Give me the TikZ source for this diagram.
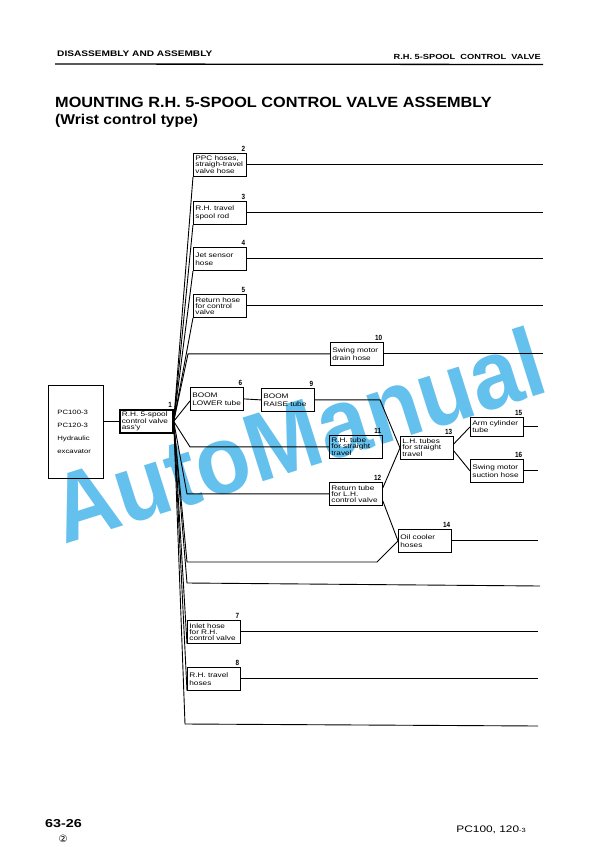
\documentclass[tikz,border=0pt]{standalone}
\usepackage{fontspec}
\setmainfont{Liberation Sans}
\newfontfamily\boxfont[FakeStretch=1.25]{Liberation Sans}
\newfontfamily\titlefont[FakeStretch=1.1]{Liberation Sans}
\newfontfamily\numfont[FakeStretch=0.85]{Liberation Sans}
\newfontfamily\dejavu{DejaVu Sans}
\usetikzlibrary{calc}
\definecolor{wm}{RGB}{100,192,236}
\lineskiplimit=-8pt
\begin{document}
\begin{tikzpicture}[x=1pt,y=-1pt,
  box/.style={draw, line width=0.8pt, anchor=north west, minimum height=23pt,
    text width=49pt, inner xsep=2pt, inner ysep=1pt, align=left,
    font=\boxfont\fontsize{6.6}{5.8}\selectfont},
  boxtwo/.style={box, font=\boxfont\fontsize{6.6}{8}\selectfont},
  num/.style={anchor=south east, inner sep=0.5pt, font=\numfont\bfseries\fontsize{7.5}{7.5}\selectfont},
  ln/.style={line width=0.9pt},
]
\useasboundingbox (0,0) rectangle (612,866);
\fill[white] (0,0) rectangle (612,866);

% header
\node[anchor=base west, inner sep=0, font=\boxfont\bfseries\fontsize{8.1}{8}\selectfont] (hl) at (57,57) {DISASSEMBLY AND ASSEMBLY};
\node[anchor=base east, inner sep=0, font=\boxfont\bfseries\fontsize{7.4}{8}\selectfont] (hr) at (541,60) {R.H. 5-SPOOL\ \ CONTROL\ \ VALVE};
\draw[line width=1.3pt] (55,64) -- (543,64.5);
\node[anchor=base west, inner sep=0, font=\titlefont\bfseries\fontsize{14.8}{15}\selectfont] (title) at (55,108) {MOUNTING R.H. 5-SPOOL CONTROL VALVE ASSEMBLY};
\node[anchor=base west, inner sep=0, font=\titlefont\bfseries\fontsize{14.2}{14}\selectfont] (subtitle) at (55,125) {(Wrist control type)};

% boxes
\node[draw, line width=0.8pt, anchor=north west, minimum width=55pt, minimum height=93pt,
  text width=37pt, inner xsep=9pt, align=left, font=\boxfont\fontsize{6.2}{12.7}\selectfont] (exc) at (48,385) {PC100-3\\PC120-3\\Hydraulic\\excavator};
\node[box, line width=1.7pt] (n1) at (119,409) {R.H. 5-spool\\control valve\\ass'y};
\node[box] (n2) at (193,153) {PPC hoses,\\straigh-travel\\valve hose};
\node[boxtwo] (n3) at (193,201) {R.H. travel\\spool rod};
\node[boxtwo] (n4) at (193,247) {Jet sensor\\hose};
\node[box] (n5) at (193,294) {Return hose\\for control\\valve};
\node[boxtwo] (n10) at (330,342) {Swing motor\\drain hose};
\node[boxtwo] (n6) at (190,387) {BOOM\\LOWER tube};
\node[boxtwo] (n9) at (261,388) {BOOM\\RAISE tube};
\node[box] (n11) at (329,435) {R.H. tube\\for straight\\travel};
\node[box] (n12) at (329,482) {Return tube\\for L.H.\\control valve};
\node[box] (n13) at (400,436) {L.H. tubes\\for straight\\travel};
\node[boxtwo, minimum height=19pt, font=\boxfont\fontsize{6.6}{7}\selectfont] (n15) at (470,417) {Arm cylinder\\tube};
\node[boxtwo] (n16) at (470,459) {Swing motor\\suction hose};
\node[boxtwo] (n14) at (398,529) {Oil cooler\\hoses};
\node[box] (n7) at (187,620) {Inlet hose\\for R.H.\\control valve};
\node[boxtwo] (n8) at (187,667) {R.H. travel\\hoses};

% numbers
\node[num] (l1) at ($(n1.north east)+(-1,-1)$) {1};
\node[num] (l2) at ($(n2.north east)+(-1,-1)$) {2};
\node[num] (l3) at ($(n3.north east)+(-1,-1)$) {3};
\node[num] (l4) at ($(n4.north east)+(-1,-1)$) {4};
\node[num] (l5) at ($(n5.north east)+(-1,-1)$) {5};
\node[num] (l6) at ($(n6.north east)+(-1,-1)$) {6};
\node[num] (l7) at ($(n7.north east)+(-1,-1)$) {7};
\node[num] (l8) at ($(n8.north east)+(-1,-1)$) {8};
\node[num] (l9) at ($(n9.north east)+(-1,-1)$) {9};
\node[num] (l10) at ($(n10.north east)+(-1,-1)$) {10};
\node[num] (l11) at ($(n11.north east)+(-1,-1)$) {11};
\node[num] (l12) at ($(n12.north east)+(-1,-1)$) {12};
\node[num] (l13) at ($(n13.north east)+(-1,-1)$) {13};
\node[num] (l14) at ($(n14.north east)+(-1,-1)$) {14};
\node[num] (l15) at ($(n15.north east)+(-1,-1)$) {15};
\node[num] (l16) at ($(n16.north east)+(-1,-1)$) {16};

% helper x-positions
\coordinate (xa) at (188,0);
\coordinate (xb) at (190,0);
\coordinate (xc) at (187,0);
\coordinate (xd) at (380,0);
\coordinate (eA) at (543,0);
\coordinate (eB) at (538,0);
\coordinate (c14) at (187,562);
\coordinate (c14b) at (377,562);
\coordinate (ca) at (187,583);
\coordinate (cae) at (540,586);
\coordinate (cb) at (185,724);
\coordinate (cbe) at (538,726);

% connectors
\draw[ln] (n1.west) -- (n1.west -| exc.east);
\foreach \t in {n2,n3,n4,n5,n7,n8} \draw[ln] (n1.east) -- (\t.south west);
\draw[ln] (n1.east) -- (n10.west -| xa) -- (n10.west);
\draw[ln] (n1.east) -- ($(n6.west)+(0,2)$);
\draw[ln] (n1.east) -- (n11.west -| xb) -- (n11.west);
\draw[ln] (n1.east) -- (n12.west -| xc) -- (n12.west);
\draw[ln] (n1.east) -- (c14) -- (c14b) -- (n14.west);
\draw[ln] (n1.east) -- (ca) -- (cae);
\draw[ln] (n1.east) -- (cb) -- (cbe);
\draw[ln] (n6.east) -- (n9.west);
\draw[ln] (n9.east) -- (n9.east -| xd) -- (n13.west);
\draw[ln] ($(n12.east)+(0,-6)$) -- (n13.west);
\draw[ln] ($(n12.east)+(0,7)$) -- (n14.west);
\draw[ln] ($(n13.east)+(0,-4)$) -- (n15.west);
\draw[ln] ($(n13.east)+(0,3)$) -- (n16.west);
\foreach \t in {n2,n3,n4,n5,n10} \draw[ln] (\t.east) -- (\t.east -| eA);
\foreach \t in {n15,n16,n14,n7,n8} \draw[ln] (\t.east) -- (\t.east -| eB);

% footer
\node[anchor=base west, inner sep=0, font=\boxfont\bfseries\fontsize{11.5}{11.5}\selectfont] (pg) at (45,827) {63-26};
\node[inner sep=0, font=\dejavu\fontsize{10}{10}\selectfont] (rev) at (63,839) {②};
\node[anchor=base east, inner sep=0, font=\boxfont\fontsize{9.5}{9.5}\selectfont] (model) at (526,832) {PC100, 120{\fontsize{6}{6}\selectfont-3}};

% watermark
\begin{scope}[blend mode=multiply]
\node[anchor=base west, inner sep=0, rotate=17.5, xscale=0.92, text=wm, font=\bfseries\fontsize{97}{97}\selectfont] (wmk) at (64,545) {AutoManual};
\end{scope}
\end{tikzpicture}
\end{document}
